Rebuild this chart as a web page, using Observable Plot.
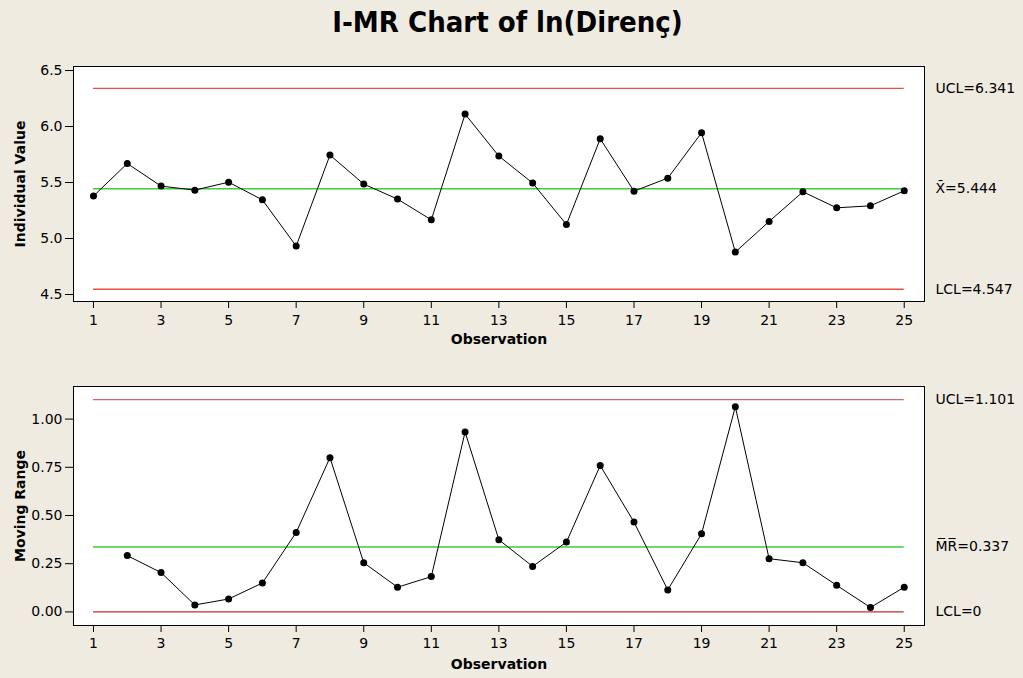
<!DOCTYPE html>
<html><head><meta charset="utf-8">
<script src="https://cdn.jsdelivr.net/npm/d3@7"></script>
<script src="https://cdn.jsdelivr.net/npm/@observablehq/plot@0.6"></script>
<style>
html,body{margin:0;padding:0;background:#efebe1;}
#wrap{position:relative;width:1023px;height:678px;background:#efebe1;overflow:hidden;}
#title{position:absolute;left:0;top:3px;width:1015px;text-align:center;font-family:"DejaVu Sans Condensed","DejaVu Sans",sans-serif;font-weight:bold;font-size:29px;font-stretch:condensed;color:#000;line-height:38px;}
.panel{position:absolute;left:0;width:1023px;}
</style></head><body>
<div id="wrap">
  <div id="title">I-MR Chart of ln(Direnç)</div>
  <div id="p1" class="panel" style="top:50px"></div>
  <div id="p2" class="panel" style="top:370px"></div>
</div>
<script>
const observation = [1,2,3,4,5,6,7,8,9,10,11,12,13,14,15,16,17,18,19,20,21,22,23,24,25];
const individualValue = [5.379,5.670,5.468,5.432,5.503,5.345,4.932,5.745,5.486,5.352,5.167,6.111,5.736,5.495,5.125,5.890,5.423,5.539,5.944,4.879,5.152,5.417,5.274,5.292,5.426];
const movingRange = [null,0.292,0.204,0.036,0.067,0.150,0.412,0.800,0.255,0.128,0.183,0.933,0.374,0.236,0.362,0.759,0.466,0.114,0.405,1.064,0.276,0.255,0.138,0.023,0.128];

const iLimitValues = [6.341, 5.444, 4.547];
const iLimitLabels = ["UCL=6.341", "X\u0304=5.444", "LCL=4.547"];
const iLimitColors = ["#ee4d48", "#3ccc3c", "#ee4d48"];

const mrLimitValues = [1.101, 0.337, 0];
const mrLimitLabels = ["UCL=1.101", "M\u0305R\u0305=0.337", "LCL=0"];
const mrLimitColors = ["#d4636c", "#3ccc3c", "#cc2a2a"];

const xTicks = [1,3,5,7,9,11,13,15,17,19,21,23,25];
const iTicks = [4.5,5.0,5.5,6.0,6.5];
const mrTicks = [0,0.25,0.5,0.75,1.0];

function panel({values, limitValues, limitLabels, limitColors, yDomain, yTicks, yFormat, yLabel, height, marginBottom, tickPad, labelDy}) {
  const data = observation.map((x, i) => ({x, y: values[i]})).filter(d => d.y != null);
  const limits = limitValues.map((v, i) => ({value: v, label: limitLabels[i], color: limitColors[i]}));
  return Plot.plot({
    width: 1023, height, marginLeft: 73, marginRight: 99, marginTop: 16, marginBottom,
    style: {background: "transparent", fontFamily: "'DejaVu Sans', sans-serif", fontSize: "14px", color: "black"},
    x: {domain: [0.408, 25.6]},
    y: {domain: yDomain},
    color: {type: "identity"},
    marks: [
      Plot.frame({fill: "white"}),
      Plot.ruleY(limits, {y: "value", x1: observation[0], x2: observation[observation.length - 1], stroke: "color", strokeWidth: 1.4}),
      Plot.line(data, {x: "x", y: "y", stroke: "black", strokeWidth: 1}),
      Plot.dot(data, {x: "x", y: "y", r: 3.5, fill: "black"}),
      Plot.frame({stroke: "black", strokeWidth: 1}),
      Plot.axisX({ticks: xTicks, tickSize: 7, tickPadding: tickPad, label: null, fontSize: 14}),
      Plot.axisY({ticks: yTicks, tickSize: 8, tickPadding: 3, label: null, tickFormat: yFormat, fontSize: 14}),
      Plot.text(["Observation"], {text: d => d, frameAnchor: "bottom", dy: labelDy, fontWeight: "bold", fontSize: 14}),
      Plot.text([yLabel], {text: d => d, frameAnchor: "left", dx: -53, rotate: -90, textAnchor: "middle", fontWeight: "bold", fontSize: 14}),
      Plot.text(limits, {y: "value", text: "label", frameAnchor: "right", dx: 11, textAnchor: "start", fontSize: 14})
    ]
  });
}

document.getElementById("p1").append(panel({
  values: individualValue, limitValues: iLimitValues, limitLabels: iLimitLabels, limitColors: iLimitColors,
  yDomain: [4.4375, 6.536], yTicks: iTicks, yFormat: d3.format(".1f"), yLabel: "Individual Value",
  height: 305, marginBottom: 54, tickPad: 7, labelDy: 42
}));
document.getElementById("p2").append(panel({
  values: movingRange, limitValues: mrLimitValues, limitLabels: mrLimitLabels, limitColors: mrLimitColors,
  yDomain: [-0.0705, 1.169], yTicks: mrTicks, yFormat: d3.format(".2f"), yLabel: "Moving Range",
  height: 308, marginBottom: 53, tickPad: 6, labelDy: 43
}));
</script>
</body></html>
